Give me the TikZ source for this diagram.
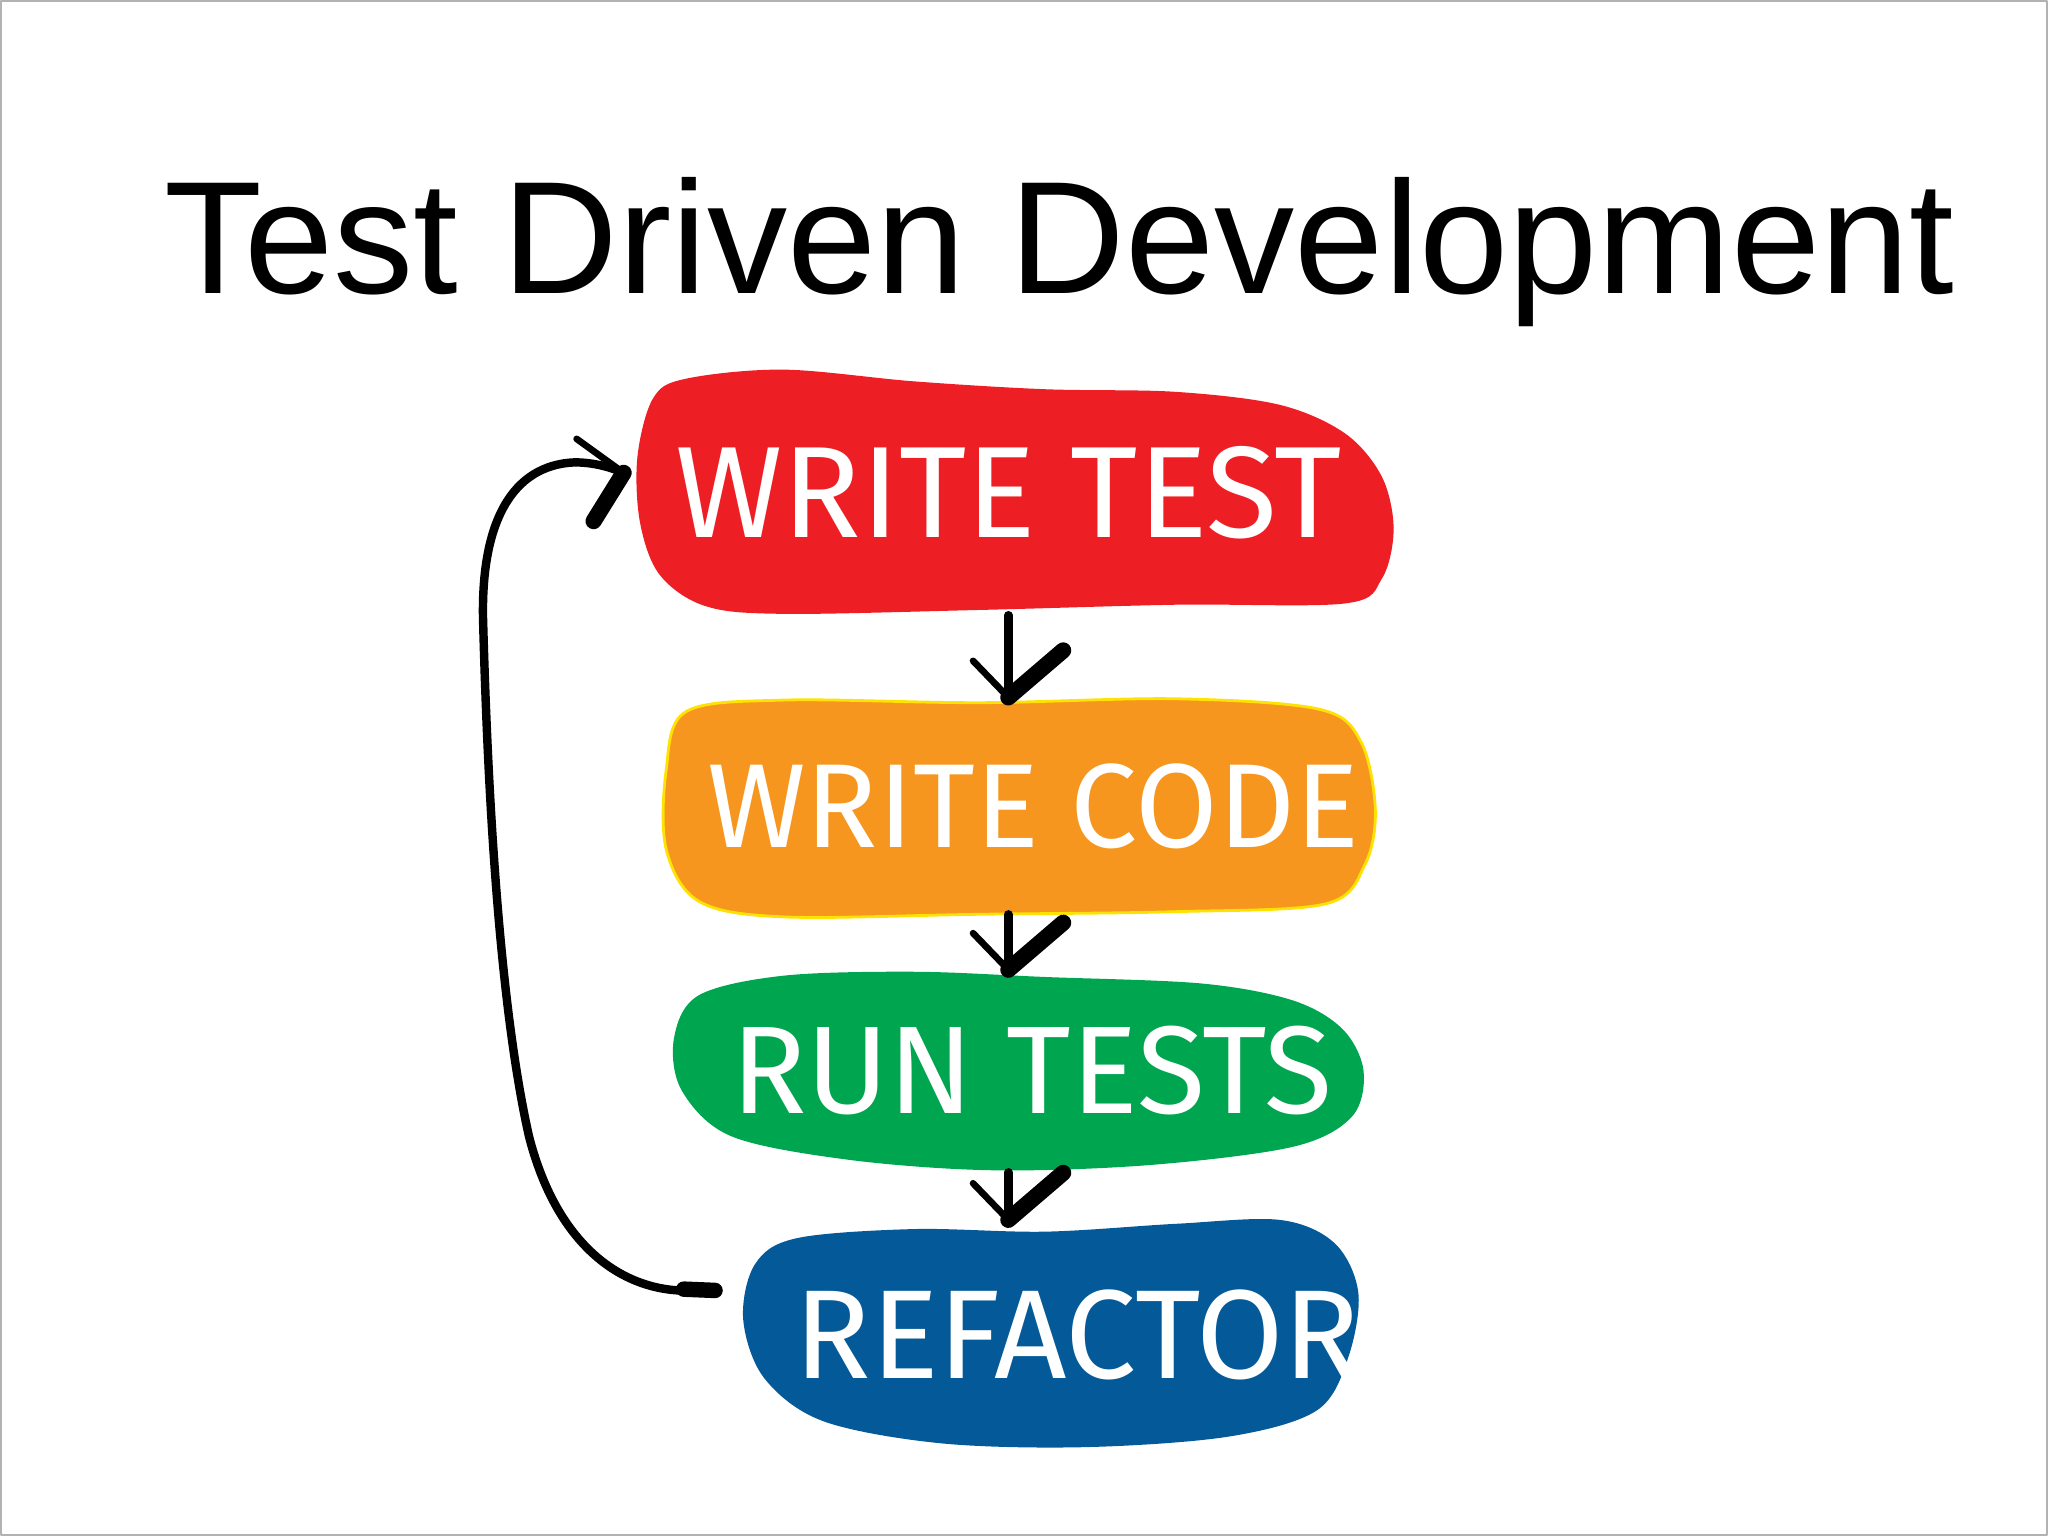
\documentclass[tikz,border=0pt]{standalone}
\usepackage{fontspec}
\setmainfont{Liberation Sans}
\newfontfamily\handfont{Fira Sans}
\usetikzlibrary{calc}
\definecolor{tddred}{RGB}{237,30,36}
\definecolor{tddorange}{RGB}{246,150,30}
\definecolor{tddgreen}{RGB}{0,165,80}
\definecolor{tddblue}{RGB}{4,90,152}
\def\pu{0.01306cm}

\begin{document}
\begin{tikzpicture}[x=\pu,y=-\pu,line join=round,line cap=round,
		stage/.style={inner sep=0pt,text=white,font=\handfont},
		blob/.style={smooth cycle,tension=0.55},
		wire/.style={line width=2.4pt},
		barb/.style={line width=1.9pt},
		heavybarb/.style={line width=4.6pt}]
		\useasboundingbox (0,0) rectangle (1568,1176);
		\draw[gray!60,line width=0.6pt] (1,1) rectangle (1567,1175);
		\node[anchor=base,font=\fontsize{45.6}{54}\selectfont] (title) at (811,225) {Test Driven Development};
		\def\tip(#1){\draw[barb] (#1)--++(-27,-28); \draw[heavybarb] (#1)--++(42,-36);};
		\fill[tddred] plot[blob] coordinates {(525,290) (600,283) (700,292) (800,298) (900,300) (980,310) (1030,332) (1058,365) (1067,405) (1058,443) (1030,462) (900,463) (750,467) (600,470) (540,464) (505,440) (490,400) (488,350) (500,305)};
		\filldraw[fill=tddorange,draw=yellow!85!orange,line width=0.8pt] plot[blob] coordinates {(525,545) (600,536) (750,538) (900,535) (1010,543) (1042,568) (1053,620) (1045,662) (1015,692) (900,698) (750,700) (600,702) (535,690) (510,650) (510,590)};
		\fill[tddgreen] plot[blob] coordinates {(535,762) (600,747) (700,744) (800,748) (920,753) (990,766) (1028,788) (1044,820) (1035,855) (990,878) (880,892) (760,896) (650,888) (560,870) (522,835) (516,795)};
		\fill[tddblue] plot[blob] coordinates {(610,948) (700,941) (800,943) (900,937) (980,934) (1022,952) (1040,990) (1032,1040) (1008,1080) (940,1100) (830,1108) (720,1105) (630,1088) (585,1055) (569,1010) (578,968)};
		\node[stage,minimum width=570*\pu,minimum height=187*\pu,font=\handfont\fontsize{37}{40}\selectfont] (wt) at (772,377) {WRITE TEST};
		\node[stage,minimum width=566*\pu,minimum height=165*\pu,font=\handfont\fontsize{34}{38}\selectfont] (wc) at (791,617) {WRITE CODE};
		\node[stage,minimum width=558*\pu,minimum height=154*\pu,font=\handfont\fontsize{35.5}{40}\selectfont] (rt) at (790,820) {RUN TESTS};
		\node[stage,minimum width=516*\pu,minimum height=175*\pu,font=\handfont\fontsize{36}{40}\selectfont] (rf) at (825,1022) {REFACTOR};
		\draw[wire] (wt.south)--(wt.south |- wc.north);
		\tip(wt.south |- wc.north)
		\draw[wire] (wt.south |- wc.south)--(wt.south |- rt.north);
		\tip(wt.south |- rt.north)
		\draw[wire] (wt.south |- rt.south)--(wt.south |- rf.north);
		\tip(wt.south |- rf.north)
		\draw[wire] ($(rf.west)+(-19,-34)$)--++(-28,0) .. controls (470,985) and (425,948) .. (405,870) .. controls (387,790) and (375,660) .. (370,480) .. controls (367,400) and (392,356) .. (440,354) .. controls (455,354) and (468,358) .. ($(wt.west)+(-9,-15)$);
		\draw[line width=4.4pt] ($(rf.west)+(-19,-34)$)--++(-24,-1);
		\draw[barb] ($(wt.west)+(-9,-15)$)--++(-36,-26);
		\draw[heavybarb] ($(wt.west)+(-9,-15)$)--++(-23,37);
\end{tikzpicture}
\end{document}
